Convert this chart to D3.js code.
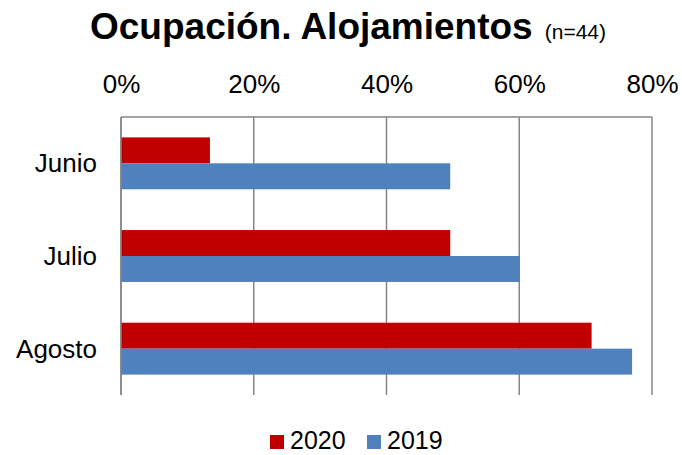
<!DOCTYPE html>
<html>
<head>
<meta charset="utf-8">
<script src="https://cdn.jsdelivr.net/npm/d3@7"></script>
<style>
  body { margin: 0; background: #fff; }
  text { font-family: "Liberation Sans", Arial, sans-serif; fill: #000; }
</style>
</head>
<body>
<div id="chart"></div>
<script>
const width = 682;
const height = 455;

// data
const months = ['Junio', 'Julio', 'Agosto'];
const series = ['2020', '2019'];
const values2020 = [13.4, 49.6, 70.9];
const values2019 = [49.6, 60.1, 77.0];
const xTicks = [0, 20, 40, 60, 80];
const colors = { '2020': '#C00000', '2019': '#4F81BD' };

const rows = months.map((m, i) => ({ month: m, '2020': values2020[i], '2019': values2019[i] }));

const plotLeft = 121, plotRight = 652, plotTop = 117, plotBottom = 395;

const svg = d3.select('#chart')
  .append('svg')
  .attr('width', width)
  .attr('height', height);

// Title
const title = svg.append('text')
  .attr('x', 90)
  .attr('y', 39);
title.append('tspan')
  .style('font-size', '37px')
  .style('font-weight', 'bold')
  .text('Ocupación. Alojamientos');
title.append('tspan')
  .style('font-size', '21px')
  .attr('dx', 12)
  .text('(n=44)');

const x = d3.scaleLinear().domain([0, 80]).range([plotLeft, plotRight]);
const y = d3.scaleBand().domain(months).range([plotTop, plotBottom]).paddingInner(0.44).paddingOuter(0.22);
const ySub = d3.scaleBand().domain(series).range([0, y.bandwidth()]);

// Gridlines
svg.append('g')
  .selectAll('line')
  .data(xTicks)
  .enter()
  .append('line')
  .attr('x1', d => x(d))
  .attr('x2', d => x(d))
  .attr('y1', plotTop)
  .attr('y2', plotBottom)
  .attr('stroke', '#868686')
  .attr('stroke-width', 1.5);

// Top border
svg.append('line')
  .attr('x1', plotLeft)
  .attr('x2', plotRight)
  .attr('y1', plotTop)
  .attr('y2', plotTop)
  .attr('stroke', '#868686')
  .attr('stroke-width', 1.5);

// X axis on top (labels only)
const xAxis = d3.axisTop(x)
  .tickValues(xTicks)
  .tickFormat(d => d + '%')
  .tickSize(0)
  .tickPadding(0);
const gx = svg.append('g')
  .attr('transform', `translate(0,93)`)
  .call(xAxis);
gx.select('.domain').remove();
gx.selectAll('text')
  .style('font-size', '26px')
  .attr('dy', 0);

// Y axis (labels only)
const yAxis = d3.axisLeft(y).tickSize(0).tickPadding(0);
const gy = svg.append('g')
  .attr('transform', `translate(${plotLeft - 24},0)`)
  .call(yAxis);
gy.select('.domain').remove();
gy.selectAll('text')
  .style('font-size', '26px')
  .attr('dy', '0.35em');

// Bars
const groups = svg.append('g')
  .selectAll('g')
  .data(rows)
  .enter()
  .append('g')
  .attr('transform', d => `translate(0,${y(d.month)})`);

groups.selectAll('rect')
  .data(d => series.map(s => ({ key: s, value: d[s] })))
  .enter()
  .append('rect')
  .attr('x', x(0))
  .attr('y', d => ySub(d.key))
  .attr('width', d => x(d.value) - x(0))
  .attr('height', ySub.bandwidth())
  .attr('fill', d => colors[d.key]);

// Left axis line drawn over bars
svg.append('line')
  .attr('x1', plotLeft)
  .attr('x2', plotLeft)
  .attr('y1', plotTop)
  .attr('y2', plotBottom)
  .attr('stroke', '#868686')
  .attr('stroke-width', 1.5);

// Legend
const legend = svg.append('g')
  .attr('transform', 'translate(270,435)');
const legendX = [0, 97];
series.forEach((s, i) => {
  legend.append('rect')
    .attr('x', legendX[i])
    .attr('y', 0)
    .attr('width', 14)
    .attr('height', 14)
    .attr('fill', colors[s]);
  legend.append('text')
    .attr('x', legendX[i] + 20)
    .attr('y', 14)
    .style('font-size', '25px')
    .text(s);
});
</script>
</body>
</html>
